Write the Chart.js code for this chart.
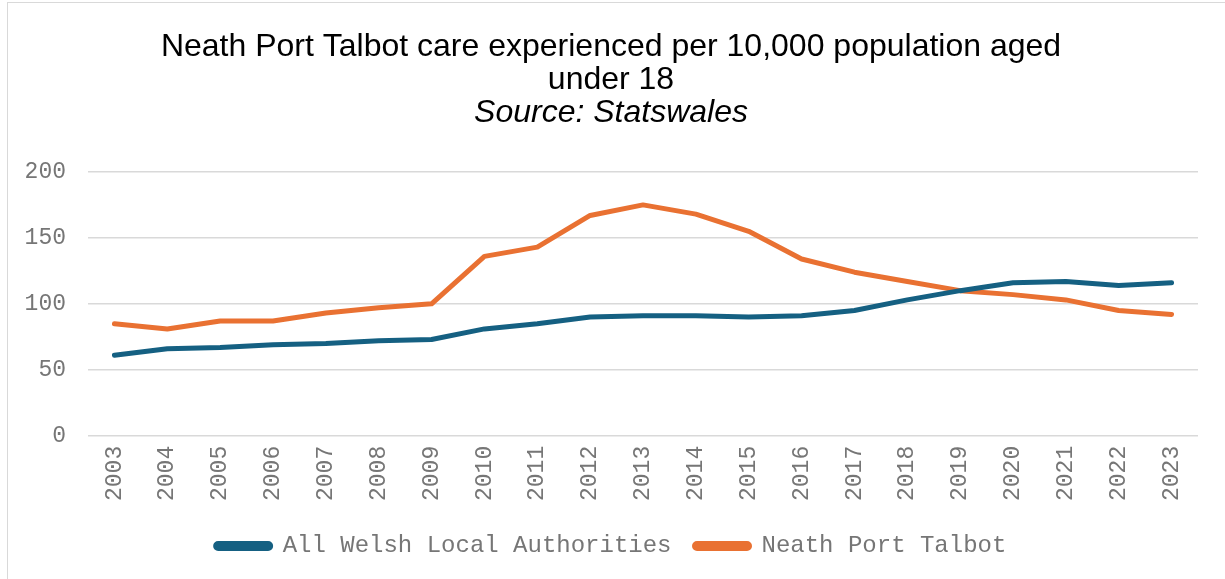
<!DOCTYPE html>
<html>
<head>
<meta charset="utf-8">
<script src="https://cdn.jsdelivr.net/npm/chart.js@4.4.1/dist/chart.umd.min.js"></script>
<style>
  html, body { margin: 0; padding: 0; background: #fff; }
  #wrap { position: absolute; left: 7px; top: 2px; width: 1230px; height: 590px; border: 1px solid #d9d9d9; box-sizing: border-box; }
  #inner { position: absolute; left: 0; top: 0; width: 1215px; height: 576px; }
</style>
</head>
<body>
<div id="wrap"><div id="inner"><canvas id="chart"></canvas></div></div>
<script>
// Years and values
const years = ['2003','2004','2005','2006','2007','2008','2009','2010','2011','2012','2013',
               '2014','2015','2016','2017','2018','2019','2020','2021','2022','2023'];
const allWales = [61, 66, 67, 69, 70, 72, 73, 81, 85, 90, 91, 91, 90, 91, 95, 103, 110, 116, 117, 114, 116];
const neathPortTalbot = [85, 81, 87, 87, 93, 97, 100, 136, 143, 167, 175, 168, 155, 134, 124, 117, 110, 107, 103, 95, 92];

const monoFamily = "'Liberation Mono', 'Courier New', monospace";
const tickColor = '#767676';

new Chart(document.getElementById('chart').getContext('2d'), {
  type: 'line',
  data: {
    labels: years,
    datasets: [
      { label: 'All Welsh Local Authorities', data: allWales, borderColor: '#156082', backgroundColor: '#156082',
        borderWidth: 5, pointRadius: 0, tension: 0, borderCapStyle: 'round', borderJoinStyle: 'round', fill: false },
      { label: 'Neath Port Talbot', data: neathPortTalbot, borderColor: '#E97132', backgroundColor: '#E97132',
        borderWidth: 5, pointRadius: 0, tension: 0, borderCapStyle: 'round', borderJoinStyle: 'round', fill: false }
    ]
  },
  options: {
    responsive: true,
    maintainAspectRatio: false,
    animation: false,
    layout: { padding: { top: 28, left: 16, right: 25, bottom: 11 } },
    plugins: {
      title: {
        display: true,
        text: ['Neath Port Talbot care experienced per 10,000 population aged', 'under 18'],
        color: '#000',
        font: { family: "'Liberation Sans', Arial, sans-serif", size: 32, weight: 'normal', lineHeight: 1.02 },
        padding: { top: 0, bottom: 0 }
      },
      subtitle: {
        display: true,
        text: 'Source: Statswales',
        color: '#000',
        font: { family: "'Liberation Sans', Arial, sans-serif", size: 32, style: 'italic', weight: 'normal', lineHeight: 1.02 },
        padding: { top: 0, bottom: 43 }
      },
      legend: {
        position: 'bottom',
        labels: {
          color: tickColor,
          font: { family: monoFamily, size: 24 },
          boxWidth: 55,
          boxHeight: 5,
          useBorderRadius: true,
          borderRadius: 2.5,
          padding: 23
        }
      },
      tooltip: { enabled: false }
    },
    scales: {
      x: {
        offset: true,
        grid: { display: false, drawTicks: false },
        border: { display: false },
        ticks: { color: tickColor, font: { family: monoFamily, size: 23 }, maxRotation: 90, minRotation: 90, padding: 10 }
      },
      y: {
        min: 0,
        max: 200,
        afterFit: (scale) => { scale.width = 64; },
        ticks: { stepSize: 50, color: tickColor, font: { family: monoFamily, size: 23 }, padding: 22 },
        grid: { color: '#d9d9d9', lineWidth: 1.5, drawTicks: false },
        border: { display: false }
      }
    }
  }
});
</script>
</body>
</html>
